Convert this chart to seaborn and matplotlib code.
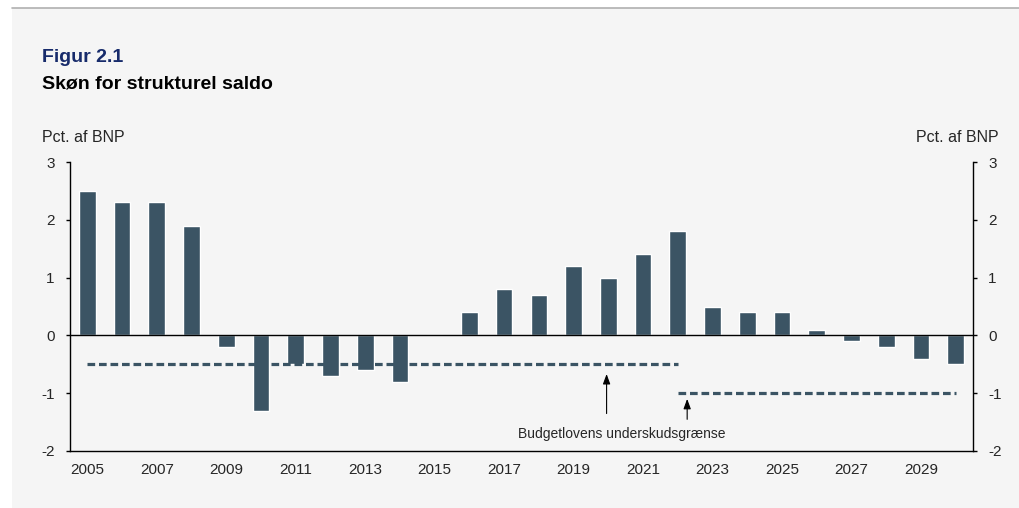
import matplotlib
matplotlib.use("Agg")
import matplotlib.pyplot as plt
import pandas as pd
import seaborn as sns

# data
years = list(range(2005, 2031))
saldo = [2.5, 2.3, 2.3, 1.9, -0.2, -1.3, -0.5, -0.7, -0.6, -0.8, 0.0,
         0.4, 0.8, 0.7, 1.2, 1.0, 1.4, 1.8, 0.5, 0.4, 0.4, 0.1, -0.1,
         -0.2, -0.4, -0.5]
graense1_aar = [2005, 2022]
graense1 = [-0.5, -0.5]
graense2_aar = [2022, 2030]
graense2 = [-1.0, -1.0]

BAR = "#3b5464"
BG = "#f5f5f5"

sns.set_style("white")
plt.rcParams["font.family"] = ["Liberation Sans", "DejaVu Sans"]
plt.rcParams["axes.unicode_minus"] = False

df = pd.DataFrame({"aar": [str(a) for a in years], "saldo": saldo})

fig = plt.figure(figsize=(10.2, 5.08), dpi=100, facecolor="white")
# baggrundspanel og linje i toppen
fig.patches.append(plt.Rectangle((12 / 1020, 0), 1 - 12 / 1020, 1 - 8 / 508,
                                 transform=fig.transFigure, facecolor=BG,
                                 edgecolor="none", zorder=-10))
fig.lines.append(plt.Line2D([12 / 1020, 1], [1 - 8 / 508, 1 - 8 / 508],
                            transform=fig.transFigure, color="#b0b0b0", lw=1.2))

ax = fig.add_axes([70 / 1020, 57 / 508, 903 / 1020, 289 / 508])
ax.set_facecolor(BG)

sns.barplot(data=df, x="aar", y="saldo", color=BAR, saturation=1, width=0.48, ax=ax)

idx = {a: i for i, a in enumerate(years)}
ax.plot([idx[a] for a in graense1_aar], graense1, color=BAR, lw=2.3,
        linestyle=(0, (2.4, 1.2)), zorder=3)
ax.plot([idx[a] for a in graense2_aar], graense2, color=BAR, lw=2.3,
        linestyle=(0, (2.4, 1.2)), zorder=3)
ax.axhline(0, color="black", lw=1, zorder=4)

# annotation med pile
ax.text(idx[2020] + 0.4, -1.71, "Budgetlovens underskudsgrænse", ha="center",
        va="center", fontsize=10)
arrow = dict(arrowstyle="-|>,head_width=0.22,head_length=0.6", color="black", lw=0.8)
ax.annotate("", xy=(idx[2020] - 0.05, -0.62), xytext=(idx[2020] - 0.05, -1.4), arrowprops=arrow)
ax.annotate("", xy=(idx[2022] + 0.27, -1.05), xytext=(idx[2022] + 0.27, -1.5), arrowprops=arrow)

ax.set_xlim(-0.5, len(years) - 0.5)
ax.set_ylim(-2, 3)
ax.set_yticks([-2, -1, 0, 1, 2, 3])
ax.set_xlabel("")
ax.set_ylabel("")

# streger mellem aarene, labels under hver anden bar
ax.set_xticks([i - 0.5 for i in range(len(years) + 1)])
ax.set_xticklabels([])
ax.set_xticks(list(range(0, len(years), 2)), minor=True)
ax.set_xticklabels([str(years[i]) for i in range(0, len(years), 2)], minor=True)
ax.tick_params(axis="x", which="major", direction="out", length=4, width=1, color="black")
ax.tick_params(axis="x", which="minor", length=0, pad=9, labelsize=11)
ax.tick_params(axis="y", direction="out", length=3, width=1, color="black",
               labelsize=11, pad=8, left=True, right=True,
               labelleft=True, labelright=True)

for s in ["left", "right", "bottom"]:
    ax.spines[s].set_visible(True)
    ax.spines[s].set_color("black")
    ax.spines[s].set_linewidth(1)
ax.spines["top"].set_visible(False)

fig.text(42 / 1020, 1 - 57 / 508, "Figur 2.1", fontsize=14, fontweight="bold",
         color="#172b6b", va="center", ha="left")
fig.text(42 / 1020, 1 - 84 / 508, "Skøn for strukturel saldo", fontsize=14,
         fontweight="bold", color="black", va="center", ha="left")
fig.text(42 / 1020, 1 - 137 / 508, "Pct. af BNP", fontsize=11.5, va="center", ha="left")
fig.text(999 / 1020, 1 - 137 / 508, "Pct. af BNP", fontsize=11.5, va="center", ha="right")

fig.savefig("out.png", dpi=100, facecolor="white")
